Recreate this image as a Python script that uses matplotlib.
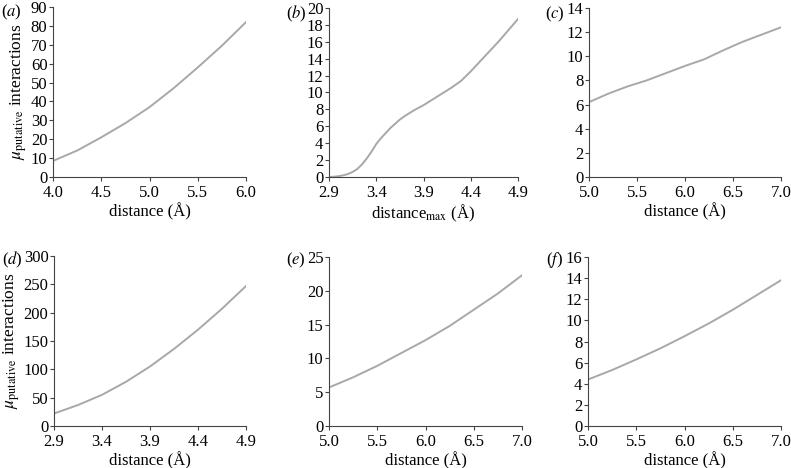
import matplotlib.pyplot as plt
import numpy as np

plt.rcParams['font.family'] = 'Liberation Serif'
plt.rcParams['mathtext.fontset'] = 'stix'
plt.rcParams['font.size'] = 12

# panel (a)
xa = [4.0, 4.25, 4.5, 4.75, 5.0, 5.25, 5.5, 5.75, 6.0]
ya = [8.5, 14, 21, 28.5, 37, 47, 58, 69.5, 82]
# panel (b)
xb = [2.9, 2.95, 3.0, 3.05, 3.1, 3.15, 3.2, 3.25, 3.3, 3.35, 3.4, 3.45, 3.5, 3.55, 3.6, 3.65, 3.7,
      3.8, 3.9, 4.0, 4.1, 4.2, 4.3, 4.4, 4.5, 4.6, 4.7, 4.8, 4.9]
yb = [0.0, 0.03, 0.1, 0.2, 0.35, 0.6, 0.95, 1.5, 2.2, 3.0, 3.9, 4.6, 5.2, 5.8, 6.3, 6.8, 7.2,
      7.9, 8.5, 9.2, 9.9, 10.6, 11.4, 12.5, 13.7, 14.9, 16.1, 17.4, 18.7]
# panel (c)
xc = [5.0, 5.2, 5.4, 5.6, 5.8, 6.0, 6.2, 6.4, 6.6, 6.8, 7.0]
yc = [6.2, 6.9, 7.5, 8.0, 8.6, 9.2, 9.75, 10.5, 11.2, 11.8, 12.4]
# panel (d)
xd = [2.9, 3.15, 3.4, 3.65, 3.9, 4.15, 4.4, 4.65, 4.9]
yd = [22, 37, 55, 78, 105, 136, 170, 207, 247]
# panel (e)
xe = [5.0, 5.25, 5.5, 5.75, 6.0, 6.25, 6.5, 6.75, 7.0]
ye = [5.7, 7.2, 8.9, 10.8, 12.7, 14.8, 17.2, 19.6, 22.3]
# panel (f)
xf = [5.0, 5.25, 5.5, 5.75, 6.0, 6.25, 6.5, 6.75, 7.0]
yf = [4.4, 5.3, 6.3, 7.35, 8.5, 9.7, 11.0, 12.4, 13.8]

W, H = 791, 468
fig = plt.figure(figsize=(W / 100, H / 100), dpi=100)

def box(l, r, t, b):
    return [l / W, 1 - b / H, (r - l) / W, (b - t) / H]

panels = [
    # x, y, box, xticks, yticks, xlabel, letter, label x (left edge), label y
    (xa, ya, box(53, 246, 7, 177), np.arange(4.0, 6.01, 0.5), np.arange(0, 91, 10), 'distance (Å)', 'a', 1, 12),
    (xb, yb, box(329, 518, 8, 177), np.arange(2.9, 4.91, 0.5), np.arange(0, 21, 2), r'distance$_{\rm max}$ (Å)', 'b', 286, 14),
    (xc, yc, box(589, 781, 8, 177), np.arange(5.0, 7.01, 0.5), np.arange(0, 15, 2), 'distance (Å)', 'c', 545, 14),
    (xd, yd, box(54, 246, 256, 426), np.arange(2.9, 4.91, 0.5), np.arange(0, 301, 50), 'distance (Å)', 'd', 2, 260),
    (xe, ye, box(329, 522, 257, 426), np.arange(5.0, 7.01, 0.5), np.arange(0, 26, 5), 'distance (Å)', 'e', 286, 260),
    (xf, yf, box(588, 781, 257, 426), np.arange(5.0, 7.01, 0.5), np.arange(0, 17, 2), 'distance (Å)', 'f', 546, 260),
]

for x, y, pos, xt, yt, xl, letter, lx, ly in panels:
    ax = fig.add_axes(pos)
    ax.plot(x, y, '-', color='#a8a8a8', lw=1.4)
    ax.set_xlim(xt[0], xt[-1])
    ax.set_ylim(yt[0], yt[-1])
    ax.set_xticks(xt)
    ax.set_xticklabels(['%.1f' % v for v in xt])
    ax.set_yticks(yt)
    ax.spines['top'].set_visible(False)
    ax.spines['right'].set_visible(False)
    for s in ('left', 'bottom'):
        ax.spines[s].set_color('#444444')
        ax.spines[s].set_linewidth(0.8)
    ax.tick_params(direction='out', length=3, width=0.8, color='#444444', labelsize=12)
    ax.tick_params(axis='x', pad=3)
    ax.tick_params(axis='y', pad=1)
    ax.set_xlabel(xl, fontsize=12, labelpad=1)
    fig.text(lx / W, 1 - ly / H, '($%s$)' % letter, ha='left', va='center', fontsize=12)
    if letter in ('a', 'd'):
        ax.set_ylabel(r'$\mu_{\rm putative}$ interactions', fontsize=12.5, labelpad=1)

plt.savefig('out.png', dpi=100)
